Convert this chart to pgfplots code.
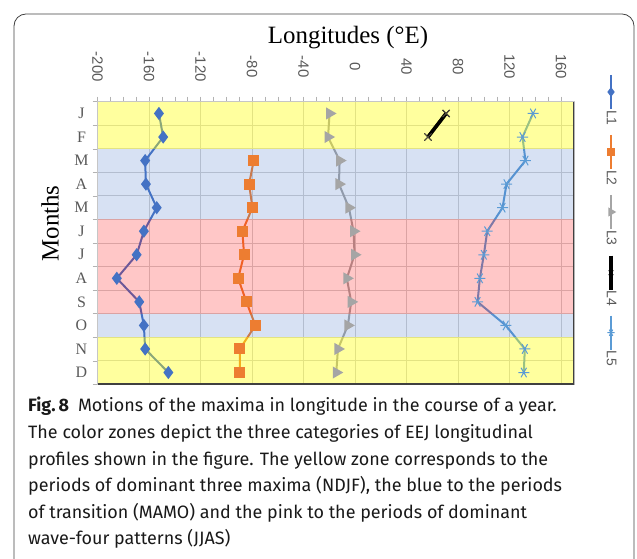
\documentclass[border=0pt]{standalone}
\usepackage{fontspec}
\usepackage{pgfplots}
\pgfplotsset{compat=1.18}
\newfontfamily\serifA{Liberation Serif}
\newfontfamily\sansA{Liberation Sans}
\newfontfamily\capfont{Fira Sans}
\definecolor{cL1}{HTML}{4472C4}
\definecolor{cL2}{HTML}{ED7D31}
\definecolor{cL3}{HTML}{A5A5A5}
\definecolor{cL5}{HTML}{5B9BD5}
\definecolor{zy}{HTML}{FFFF00}
\definecolor{zb}{HTML}{4472C4}
\definecolor{zp}{HTML}{FF0000}
\definecolor{tickgray}{HTML}{595959}
\pgfplotsset{vleg/.style={legend image code/.code={
  \draw[##1, mark=none] (0bp,17bp) -- (0bp,-17bp);
  \draw[##1, every mark/.append style={scale=0.65}] plot coordinates {(0bp,0bp)};
  \node[rotate=-90, draw=none, fill=none, font=\sansA\fontsize{14}{14}\selectfont, text=tickgray, inner sep=0pt] at (0bp,-26bp) {#1};
  \path[draw=none, fill=none] (-6bp,17bp) rectangle (6bp,-42bp);
}}}
\begin{document}
\begin{tikzpicture}[x=1bp,y=1bp]
\useasboundingbox (0,0) rectangle (637,559);
\draw[black!75, line width=0.8bp, rounded corners=12bp] (14,545) rectangle (634,-20);
\begin{axis}[
  at={(97.5bp,174.7bp)}, anchor=south west,
  scale only axis, width=476.5bp, height=282.6bp,
  xmin=-200, xmax=170, ymin=0.5, ymax=12.5,
  xtick={-200,-160,...,160},
  xticklabels={-200,-160,-120,-80,-40,0,40,80,120,160},
  minor x tick num=3,
  xtick pos=right, xticklabel pos=right,
  ytick={1,...,12},
  yticklabels={D,N,O,S,A,J,J,M,A,M,F,J},
  minor ytick={0.5,1.5,...,12.5},
  ytick pos=left,
  tick align=outside,
  major tick length=5bp, minor tick length=5bp,
  major y tick style={draw=none},
  every tick/.style={gray!60},
  xmajorgrids, yminorgrids,
  major x grid style={gray!35, line width=0.8bp},
  minor y grid style={gray!35, line width=0.8bp},
  axis line style={gray!45},
  xticklabel style={font=\sansA\fontsize{15}{15}\selectfont, text=tickgray, yshift=30bp, rotate=-90, anchor=center},
  yticklabel style={font=\serifA\fontsize{16}{16}\selectfont, text=tickgray, anchor=center, xshift=-11bp},
  legend columns=1,
  legend style={at={(1.0651,1.098)}, anchor=north west, draw=none, fill=none,
    inner sep=0pt, outer sep=0pt, row sep=0pt,
    nodes={inner sep=0pt, outer sep=0pt}},
]
\addplot[cL1, line width=2bp, mark=diamond*, mark size=5bp, vleg=L1] coordinates {
(-152.3,12) (-149,11) (-163,10) (-162.4,9) (-154,8) (-164,7) (-169.6,6) (-185,5) (-167.6,4) (-164,3) (-163,2) (-145,1)};
\addlegendentry{}
\addplot[cL2, line width=2bp, mark=square*, mark size=4.5bp, vleg=L2] coordinates {
(-78.7,10) (-82.3,9) (-79.7,8) (-87.5,7) (-86.2,6) (-90.8,5) (-84.4,4) (-77.4,3) (-89.5,2) (-89.5,1)};
\addlegendentry{}
\addplot[cL3, line width=2bp, mark=triangle*, mark size=5bp, mark options={rotate=-90}, vleg=L3] coordinates {
(-19.8,12) (-21,11) (-12,10) (-12.5,9) (-4.8,8) (-1.2,7) (-0.4,6) (-6.4,5) (-3,4) (-5.6,3) (-13.3,2) (-14.6,1)};
\addlegendentry{}
\addplot[black, line width=3.5bp, mark=x, mark size=5bp, mark options={line width=1bp}, vleg=L4] coordinates {
(70.7,12) (56.6,11)};
\addlegendentry{}
\addplot[cL5, line width=2bp, mark=asterisk, mark size=5.5bp, mark options={rotate=90, line width=1bp}, vleg=L5] coordinates {
(138.2,12) (130,11) (132.3,10) (117.6,9) (114.5,8) (102.6,7) (100,6) (96.9,5) (95.1,4) (117,3) (131.8,2) (131,1)};
\addlegendentry{}
\fill[zy, fill opacity=0.38] (axis cs:-200,10.5) rectangle (axis cs:170,12.5);
\fill[zy, fill opacity=0.38] (axis cs:-200,0.5) rectangle (axis cs:170,2.5);
\fill[zb, fill opacity=0.21] (axis cs:-200,7.5) rectangle (axis cs:170,10.5);
\fill[zb, fill opacity=0.21] (axis cs:-200,2.5) rectangle (axis cs:170,3.5);
\fill[zp, fill opacity=0.22] (axis cs:-200,3.5) rectangle (axis cs:170,7.5);
\addplot[black, line width=3.5bp, mark=x, mark size=5bp, mark options={line width=1bp, draw=black!80!yellow}, forget plot] coordinates {
(70.7,12) (56.6,11)};
\draw[black!75, line width=1.6bp] (rel axis cs:0,0) -- (rel axis cs:1,0) -- (rel axis cs:1,1);
\end{axis}
\node[font=\serifA\fontsize{25}{25}\selectfont] at (348,521) {Longitudes (°E)};
\node[font=\serifA\fontsize{25}{25}\selectfont, rotate=90] at (50,335.5) {Months};
\begin{scope}[font=\capfont\fontsize{18}{18}\selectfont, every node/.style={anchor=base west, inner sep=0pt, text=black!90}]
\node at (28,147) {\textbf{Fig.\,8}\hspace{0.5em}Motions of the maxima in longitude in the course of a year.};
\node at (28,120.4) {The color zones depict the three categories of EEJ longitudinal};
\node at (28,93.8) {profiles shown in the figure. The yellow zone corresponds to the};
\node at (28,67.2) {periods of dominant three maxima (NDJF), the blue to the periods};
\node at (28,40.6) {of transition (MAMO) and the pink to the periods of dominant};
\node at (28,14) {wave-four patterns (JJAS)};
\end{scope}
\end{tikzpicture}
\end{document}
